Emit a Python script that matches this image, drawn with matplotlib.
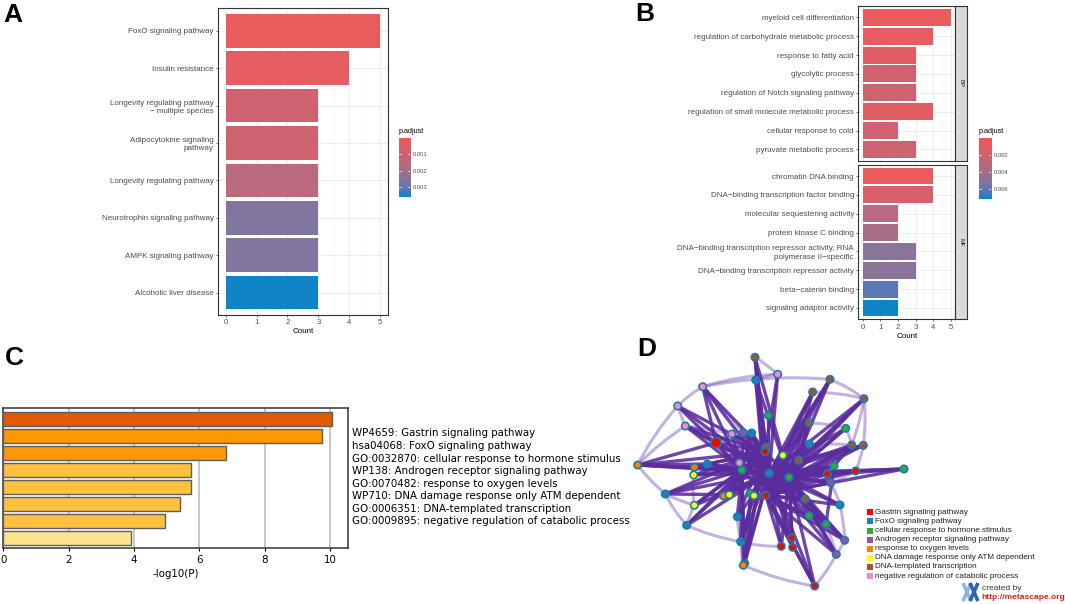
import matplotlib
matplotlib.use('Agg')
import matplotlib.pyplot as plt
import numpy as np
from matplotlib.colors import LinearSegmentedColormap
from matplotlib.collections import LineCollection
from matplotlib.path import Path
from matplotlib.patches import PathPatch

W, H = 1065, 604

# ---- panel A: KEGG enrichment (clusterProfiler style)
kegg_terms = ['FoxO signaling pathway', 'Insulin resistance',
              'Longevity regulating pathway\n\u2212 multiple species',
              'Adipocytokine signaling\npathway', 'Longevity regulating pathway',
              'Neurotrophin signaling pathway', 'AMPK signaling pathway',
              'Alcoholic liver disease']
kegg_count = [5, 4, 3, 3, 3, 3, 3, 3]
kegg_padj = [0.00005, 0.00025, 0.0011, 0.0011, 0.0016, 0.0026, 0.0026, 0.00362]
kegg_range = (0.00005, 0.00362)
kegg_ticks = [0.001, 0.002, 0.003]

# ---- panel B: GO enrichment, BP and MF facets
bp_terms = ['myeloid cell differentiation', 'regulation of carbohydrate metabolic process',
            'response to fatty acid', 'glycolytic process',
            'regulation of Notch signaling pathway',
            'regulation of small molecule metabolic process',
            'cellular response to cold', 'pyruvate metabolic process']
bp_count = [5, 4, 3, 3, 3, 4, 2, 3]
bp_padj = [0.00007, 0.0004, 0.0009, 0.0022, 0.0022, 0.0008, 0.0022, 0.0022]
mf_terms = ['chromatin DNA binding', 'DNA\u2212binding transcription factor binding',
            'molecular sequestering activity', 'protein kinase C binding',
            'DNA\u2212binding transcription repressor activity, RNA\npolymerase II\u2212specific',
            'DNA\u2212binding transcription repressor activity',
            'beta\u2212catenin binding', 'signaling adaptor activity']
mf_count = [4, 4, 2, 2, 3, 3, 2, 2]
mf_padj = [0.0001, 0.0015, 0.0033, 0.0038, 0.0048, 0.0048, 0.0062, 0.00718]
go_range = (0.00007, 0.00718)
go_ticks = [0.002, 0.004, 0.006]

# ---- panel C: Metascape bar chart
meta_terms = ['WP4659: Gastrin signaling pathway',
              'hsa04068: FoxO signaling pathway',
              'GO:0032870: cellular response to hormone stimulus',
              'WP138: Androgen receptor signaling pathway',
              'GO:0070482: response to oxygen levels',
              'WP710: DNA damage response only ATM dependent',
              'GO:0006351: DNA-templated transcription',
              'GO:0009895: negative regulation of catabolic process']
meta_logp = [10.05, 9.75, 6.83, 5.73, 5.73, 5.40, 4.96, 3.92]
meta_colors = ['#DF5A00', '#FE9700', '#FE9700', '#FFC13F', '#FFC13F',
               '#FFC13F', '#FFC13F', '#FFE38F']

# ---- panel D: Metascape network
net_cats = ['Gastrin signaling pathway', 'FoxO signaling pathway',
            'cellular response to hormone stimulus',
            'Androgen receptor signaling pathway', 'response to oxygen levels',
            'DNA damage response only ATM dependent', 'DNA-templated transcription',
            'negative regulation of catabolic process']
net_colors = ['#FF0000', '#1F7FC0', '#33A833', '#9B4FA8', '#FF8000',
              '#FFFF00', '#A6522A', '#FF88CC']
node_x = [755, 777.7, 755.7, 830, 812.7, 864, 702.7, 677.7, 768.3, 809.3,
          685.3, 845.7, 743.3, 751.7, 731.7, 716, 809.3, 851.7, 863.3, 765.7,
          765, 783, 798.7, 637.7, 707.3, 694.3, 739.3, 742, 769.3, 789,
          834, 855.7, 904, 827.3, 830.7, 693.7, 665.3, 723.7, 729.3, 750.7,
          754, 765.7, 805.3, 840, 694.3, 737.3, 809, 826, 686.7, 740.7,
          792, 781.3, 792.7, 844.7, 836.3, 744.7, 743.3, 814.7]
node_y = [357.3, 374.3, 380, 379.3, 392, 398.7, 386.7, 406, 415.3, 422.7,
          426, 428.3, 432.7, 433, 434, 442.7, 444, 445, 445.3, 447.3,
          451.7, 455.3, 460.3, 465, 464, 467.3, 462.7, 470, 473.3, 477.3,
          466, 471, 469, 474, 482.7, 475, 494, 496, 494.7, 493.3,
          495.7, 495.3, 499, 505, 505.3, 516.7, 515.7, 524.3, 525.3, 541.7,
          537.7, 546.3, 547.3, 540.3, 554.3, 563.3, 565.3, 586]
node_cat = [6, 7, 1, 6, 6, 6, 7, 7, 2, 6,
            7, 2, 3, 1, 7, 0, 1, 6, 6, 6,
            0, 5, 6, 4, 1, 4, 7, 2, 1, 2,
            2, 0, 2, 0, 3, 5, 1, 4, 5, 2,
            5, 0, 6, 1, 5, 1, 2, 2, 1, 1,
            0, 0, 0, 3, 3, 0, 4, 0]
hubs = [27, 28, 29, 20, 41]
right_side = [0, 2, 3, 4, 5, 9, 11, 16, 17, 18, 22, 30, 31, 32, 33, 34,
              42, 43, 46, 47, 50, 51, 52, 53, 54, 57]
left_side = [6, 7, 10, 12, 13, 14, 15, 23, 24, 25, 26, 35, 36, 37, 38,
             44, 45, 48, 49, 55, 56]
extra_dark = [(31, 32), (33, 31), (15, 29), (0, 19), (2, 20), (1, 20),
              (23, 15), (6, 15), (10, 15), (3, 21), (5, 22), (57, 41),
              (23, 24), (23, 25), (36, 38), (49, 40), (55, 39), (4, 21),
              (9, 22), (18, 22), (17, 30), (54, 42), (53, 42), (47, 30)]
light_edges = [(6, 1), (6, 3), (1, 2), (3, 5), (4, 5), (5, 18), (5, 17), (3, 9),
               (7, 6), (7, 10), (10, 23), (7, 23), (23, 25), (23, 36), (36, 48),
               (48, 44), (44, 35), (35, 25), (48, 49), (49, 56), (56, 57),
               (57, 54), (54, 53), (53, 43), (43, 34), (34, 31), (18, 31),
               (11, 17), (47, 54), (50, 52), (51, 49), (45, 49), (37, 44),
               (24, 25), (14, 10), (12, 6), (9, 11), (16, 17), (42, 47),
               (46, 53), (0, 1), (36, 44)]

plt.rcParams['font.family'] = ['Liberation Sans', 'DejaVu Sans']

cmap = LinearSegmentedColormap.from_list(
    'padj', [(0, '#EA5B5E'), (0.3, '#CE6271'), (0.45, '#B86A80'),
             (0.72, '#80769F'), (0.86, '#5A78B4'), (1, '#0F85C6')])

fig = plt.figure(figsize=(W / 100, H / 100), dpi=100)


def px_axes(l, t, r, b):
    return fig.add_axes([l / W, 1 - b / H, (r - l) / W, (b - t) / H])


def gg_bars(ax, terms, counts, padj, rng, show_x=True):
    n = len(terms)
    ypos = np.arange(n)
    frac = (np.array(padj) - rng[0]) / (rng[1] - rng[0])
    ax.barh(ypos, counts, height=0.9, color=cmap(frac), zorder=3)
    ax.set_xlim(-0.25, 5.25)
    ax.set_ylim(n - 1 + 0.6, -0.6)
    ax.set_xticks(range(6))
    ax.set_xticks(np.arange(0.5, 5.5, 1), minor=True)
    ax.set_yticks(ypos)
    ax.set_yticklabels(terms, fontsize=5.8, color='#4D4D4D', linespacing=1.3)
    ax.grid(which='major', color='#EBEBEB', lw=0.6, zorder=0)
    ax.grid(which='minor', axis='x', color='#F4F4F4', lw=0.4, zorder=0)
    ax.set_axisbelow(True)
    for s in ax.spines.values():
        s.set_color('#333333')
        s.set_linewidth(0.8)
    ax.tick_params(which='major', length=1.6, width=0.5, color='#333333',
                   pad=1.5, labelsize=5.6, labelcolor='#4D4D4D')
    ax.tick_params(axis='y', labelsize=5.8)
    ax.tick_params(which='minor', length=0)
    if not show_x:
        ax.tick_params(axis='x', bottom=False, labelbottom=False)


def gg_colorbar(cax, rng, ticks):
    grad = np.linspace(rng[0], rng[1], 256).reshape(-1, 1)
    cax.imshow(grad, aspect='auto', cmap=cmap, origin='upper',
               extent=[0, 1, rng[1], rng[0]], vmin=rng[0], vmax=rng[1])
    for t in ticks:
        cax.plot([0, 0.2], [t, t], color='white', lw=0.5)
        cax.plot([0.8, 1], [t, t], color='white', lw=0.5)
    cax.set_xticks([])
    cax.set_yticks(ticks)
    cax.set_yticklabels([f'{t:.3f}' for t in ticks])
    cax.yaxis.tick_right()
    cax.tick_params(axis='y', length=0, pad=2, labelsize=4.2, labelcolor='#4D4D4D')
    for s in cax.spines.values():
        s.set_visible(False)


# panel A
ax_a = px_axes(218, 8.3, 387.8, 315)
gg_bars(ax_a, kegg_terms, kegg_count, kegg_padj, kegg_range)
ax_a.set_xlabel('Count', fontsize=5.8, labelpad=1)
cax_a = px_axes(399, 138.3, 410.4, 197.3)
gg_colorbar(cax_a, kegg_range, kegg_ticks)
fig.text(399 / W, 1 - 131.5 / H, 'p.adjust', fontsize=5.2, va='center', ha='left')

# panel B
ax_bp = px_axes(858.2, 6, 955.4, 160.7)
gg_bars(ax_bp, bp_terms, bp_count, bp_padj, go_range, show_x=False)
ax_mf = px_axes(858.2, 164.7, 955.4, 319.3)
gg_bars(ax_mf, mf_terms, mf_count, mf_padj, go_range)
ax_mf.set_xlabel('Count', fontsize=5.8, labelpad=1.5)
for (t, b), lab in zip([(6, 160.7), (164.7, 319.3)], ['BP', 'MF']):
    sax = px_axes(955.4, t, 967.4, b)
    sax.set_facecolor('#D9D9D9')
    sax.set_xticks([])
    sax.set_yticks([])
    for s in sax.spines.values():
        s.set_color('#333333')
        s.set_linewidth(0.8)
    sax.text(0.5, 0.5, lab, rotation=-90, ha='center', va='center',
             fontsize=4.4, color='#1A1A1A', transform=sax.transAxes)
cax_b = px_axes(978.7, 138.3, 991, 198.7)
gg_colorbar(cax_b, go_range, go_ticks)
fig.text(978.7 / W, 1 - 131 / H, 'p.adjust', fontsize=5.2, va='center', ha='left')

# panel C
ax_c = px_axes(3.3, 408.3, 348.3, 548.3)
yc = np.arange(len(meta_terms))
ax_c.barh(yc, meta_logp, height=0.8, color=meta_colors, edgecolor='#5E5E5E',
          lw=1.0, zorder=3)
ax_c.set_xlim(0, 10.56)
ax_c.set_ylim(len(meta_terms) - 1 + 0.61, -0.64)
ax_c.set_xticks(range(0, 11, 2))
ax_c.set_yticks([])
ax_c.grid(axis='x', color='#BEBEBE', lw=1.2, zorder=0)
ax_c.set_axisbelow(True)
for s in ax_c.spines.values():
    s.set_color('#333333')
    s.set_linewidth(1.1)
ax_c.tick_params(axis='x', length=2.5, width=0.8, labelsize=7.4, pad=2.5)
for lab in ax_c.get_xticklabels():
    lab.set_family('DejaVu Sans')
ax_c.set_xlabel('-log10(P)', fontsize=7.4, family='DejaVu Sans', labelpad=3)
for i, term in enumerate(meta_terms):
    fig.text(352.3 / W, 1 - (433.3 + 12.6 * i) / H, term, fontsize=7.4,
             family='DejaVu Sans', va='center', ha='left')

# panel D
ax_d = fig.add_axes([600 / W, 0, 465 / W, 264 / H])
ax_d.set_xlim(600, 1065)
ax_d.set_ylim(604, 340)
ax_d.axis('off')
nx = np.array(node_x)
ny = np.array(node_y)
cx, cy = nx[28], ny[28]

for a, b in light_edges:
    mx, my = (nx[a] + nx[b]) / 2, (ny[a] + ny[b]) / 2
    dx, dy = mx - cx, my - cy
    d = np.hypot(dx, dy) + 1e-6
    L = np.hypot(nx[b] - nx[a], ny[b] - ny[a])
    px, py = mx + dx / d * 0.07 * L, my + dy / d * 0.07 * L
    path = Path([(nx[a], ny[a]), (px, py), (nx[b], ny[b])],
                [Path.MOVETO, Path.CURVE3, Path.CURVE3])
    ax_d.add_patch(PathPatch(path, fc='none', ec='#7A55BE', lw=2.2,
                             alpha=0.45, zorder=1))

dark = [(i, 28) for i in range(len(node_x)) if i != 28]
dark += [(i, h) for i in right_side for h in (29, 41)]
dark += [(i, h) for i in left_side for h in (27, 20)]
dark += [(a, b) for a in hubs for b in hubs if a < b]
dark += extra_dark
segs = [[(nx[a], ny[a]), (nx[b], ny[b])] for a, b in dark]
ax_d.add_collection(LineCollection(segs, colors='#5A2C9E', linewidths=2.4,
                                   alpha=0.88, zorder=2))

sizes = np.full(len(node_x), 28.0)
sizes[15] = 55
ax_d.scatter(nx, ny, s=sizes, c=[net_colors[c] for c in node_cat],
             edgecolors='#1C7EA6', linewidths=1.2, zorder=5)

for i, (lab, col) in enumerate(zip(net_cats, net_colors)):
    yy = 512.3 + 9.1 * i
    ax_d.scatter([870], [yy], marker='s', s=17, c=col, lw=0, zorder=6)
    ax_d.text(875, yy, lab, fontsize=5.9, color='#222222', va='center', ha='left')

# metascape logo
for off, col in [(0, '#8DB6E4'), (7, '#2F62B4')]:
    for x0, x1 in [(963, 971), (971, 963)]:
        path = Path([(x0 + off, 583), ((x0 + x1) / 2 + off, 592), (x1 + off, 601)],
                    [Path.MOVETO, Path.CURVE3, Path.CURVE3])
        ax_d.add_patch(PathPatch(path, fc='none', ec=col, lw=2.6, zorder=6))
ax_d.text(982, 588, 'created by', fontsize=6, color='#333344', va='center', ha='left')
ax_d.text(981, 597.7, 'http://metascape.org', fontsize=6, color='#E0201B',
          fontweight='bold', va='center', ha='left')

# panel letters
for lab, x, y in [('A', 3, 3), ('B', 635, 2), ('C', 5, 346), ('D', 637, 337)]:
    fig.text(x / W, 1 - y / H, lab, fontsize=19, fontweight='bold',
             va='top', ha='left')

fig.savefig('out.png', dpi=100)
